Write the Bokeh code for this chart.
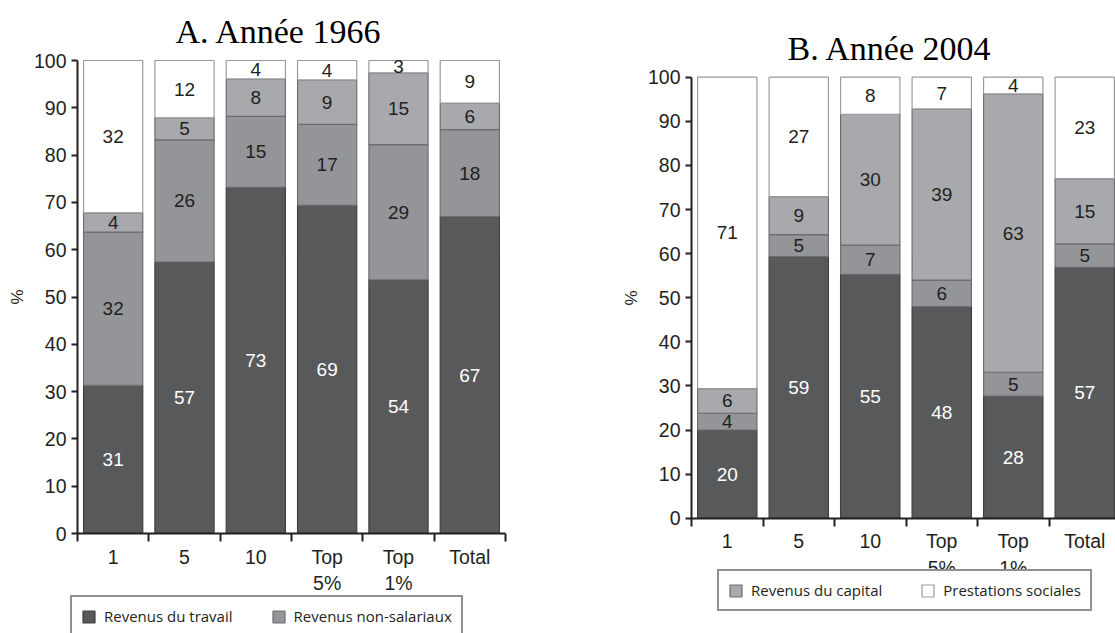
import numpy as np
from bokeh.plotting import figure
from bokeh.models import ColumnDataSource, Range1d, FixedTicker, Legend, LegendItem, Label
from bokeh.layouts import row
from bokeh.embed import file_html
from bokeh.resources import INLINE
from bokeh.core.properties import value

# ---------------- data ----------------
categories = ["1", "5", "10", "Top\n5%", "Top\n1%", "Total"]
series_names = ["Revenus du travail", "Revenus non-salariaux",
                "Revenus du capital", "Prestations sociales"]

# Année 1966 (%)
travail_1966 = [31.3, 57.4, 73.2, 69.4, 53.6, 67.0]
nonsal_1966 = [32.4, 25.8, 15.0, 17.1, 28.6, 18.4]
capital_1966 = [4.1, 4.7, 7.9, 9.4, 15.2, 5.6]
prestations_1966 = [32.2, 12.1, 3.9, 4.1, 2.6, 9.0]

# Année 2004 (%)
travail_2004 = [20.0, 59.3, 55.3, 48.0, 27.7, 56.9]
nonsal_2004 = [3.8, 5.0, 6.6, 6.0, 5.4, 5.3]
capital_2004 = [5.6, 8.6, 29.7, 38.8, 63.1, 14.8]
prestations_2004 = [70.6, 27.1, 8.4, 7.2, 3.8, 23.0]

y_ticks = list(range(0, 101, 10))

# ---------------- styles ----------------
FILL = ["#58595b", "#939598", "#a7a9ac", "#ffffff"]
LINE = ["#3f4042", "#6d6e71", "#6d6e71", "#9a9b9e"]
TXT = ["#ffffff", "#231f20", "#231f20", "#231f20"]
AXC = "#231f20"
NUM_FONT = "Liberation Sans"
CANVAS_TOP = 0
CANVAS_H = 633


def make_chart(title, series, canvas_left, canvas_w, x0_px, cat_px, y0_px,
               y100_px, title_left_px, title_base_px, legend_idx,
               legend_left_px, legend_bottom_px, legend_spacing, legend_pad):
    n = len(categories)
    centers = [i + 0.5 for i in range(n)]
    bounds = list(range(n + 1))
    keys = ["s0", "s1", "s2", "s3"]
    data = {"x": centers}
    for k, s in zip(keys, series):
        data[k] = s
    src = ColumnDataSource(data)

    ppu = (y0_px - y100_px) / 100.0
    canvas_bottom = CANVAS_TOP + CANVAS_H
    x_start = (canvas_left - x0_px) / cat_px
    x_end = (canvas_left + canvas_w - x0_px) / cat_px
    y_start = -(canvas_bottom - y0_px) / ppu
    y_end = 100 + (y100_px - CANVAS_TOP) / ppu

    p = figure(width=canvas_w, height=CANVAS_H, output_backend="svg",
               toolbar_location=None, x_range=Range1d(x_start, x_end),
               y_range=Range1d(y_start, y_end), min_border=0,
               min_border_left=0, min_border_right=0, min_border_top=0,
               min_border_bottom=0)
    try:
        p.frame_align = False
    except Exception:
        pass
    p.grid.visible = False
    p.outline_line_color = None
    p.background_fill_color = "white"
    p.border_fill_color = "white"

    rends = p.vbar_stack(keys, x="x", width=0.83, source=src,
                         fill_color=FILL, line_color=LINE, line_width=1.2)

    # value labels at segment middles
    arr = np.array(series, dtype=float)
    cum = np.cumsum(arr, axis=0)
    base = cum - arr
    for j in range(4):
        mids = base[j] + arr[j] / 2.0
        labs = [str(int(round(v))) for v in series[j]]
        ls = ColumnDataSource({"x": centers, "y": list(mids), "t": labs})
        p.text(x="x", y="y", text="t", source=ls, text_align="center",
               text_baseline="middle", text_color=TXT[j],
               text_font=value(NUM_FONT), text_font_size="19px")

    # y axis
    p.yaxis.fixed_location = 0
    p.yaxis.bounds = (0, 100)
    p.yaxis.ticker = FixedTicker(ticks=y_ticks)
    p.yaxis.axis_label = "%"
    p.yaxis.axis_label_text_font = NUM_FONT
    p.yaxis.axis_label_text_font_style = "normal"
    p.yaxis.axis_label_text_font_size = "17px"
    p.yaxis.axis_label_text_color = AXC
    p.yaxis.axis_label_standoff = 4
    p.yaxis.major_label_text_font = NUM_FONT
    p.yaxis.major_label_text_font_size = "19.5px"
    p.yaxis.major_label_text_color = AXC
    p.yaxis.major_label_standoff = 5
    p.yaxis.major_tick_out = 6
    p.yaxis.major_tick_in = 0
    p.yaxis.minor_tick_line_color = None
    p.yaxis.axis_line_width = 2
    p.yaxis.axis_line_color = AXC
    p.yaxis.major_tick_line_width = 2
    p.yaxis.major_tick_line_color = AXC

    # x axis
    p.xaxis.fixed_location = 0
    p.xaxis.bounds = (0, n)
    p.xaxis.ticker = FixedTicker(ticks=centers, minor_ticks=bounds)
    p.xaxis.major_label_overrides = {c: lab for c, lab in zip(centers, categories)}
    p.xaxis.major_tick_out = 0
    p.xaxis.major_tick_in = 0
    p.xaxis.minor_tick_out = 8
    p.xaxis.minor_tick_in = 0
    p.xaxis.minor_tick_line_width = 2
    p.xaxis.minor_tick_line_color = AXC
    p.xaxis.axis_line_width = 2
    p.xaxis.axis_line_color = AXC
    p.xaxis.major_label_text_font = NUM_FONT
    p.xaxis.major_label_text_font_size = "19.5px"
    p.xaxis.major_label_text_color = AXC
    p.xaxis.major_label_standoff = 4

    # title
    tl = Label(x=(title_left_px - x0_px) / cat_px,
               y=(y0_px - title_base_px) / ppu,
               text=title, text_font="Liberation Serif", text_font_size="34px",
               text_color="#000000", text_align="left",
               text_baseline="alphabetic")
    p.add_layout(tl)

    # legend
    items = [LegendItem(label=series_names[i], renderers=[rends[i]]) for i in legend_idx]
    leg = Legend(items=items,
                 location=(legend_left_px - canvas_left, canvas_bottom - legend_bottom_px),
                 orientation="horizontal",
                 glyph_width=15, glyph_height=15, label_standoff=8,
                 spacing=legend_spacing, padding=legend_pad, margin=0,
                 label_text_font="Open Sans", label_text_font_size="15px",
                 label_text_color="#231f20", label_height=15,
                 border_line_color="#231f20", border_line_width=2,
                 background_fill_color="white", background_fill_alpha=1.0)
    p.add_layout(leg)
    return p


pA = make_chart("A. Année 1966",
                [travail_1966, nonsal_1966, capital_1966, prestations_1966],
                canvas_left=0, canvas_w=552, x0_px=77, cat_px=71.33,
                y0_px=533, y100_px=60, title_left_px=175, title_base_px=31,
                legend_idx=[0, 1], legend_left_px=70, legend_bottom_px=637,
                legend_spacing=38, legend_pad=9)

pB = make_chart("B. Année 2004",
                [travail_2004, nonsal_2004, capital_2004, prestations_2004],
                canvas_left=552, canvas_w=563, x0_px=691, cat_px=71.5,
                y0_px=517.7, y100_px=76.7, title_left_px=787, title_base_px=48,
                legend_idx=[2, 3], legend_left_px=717, legend_bottom_px=611,
                legend_spacing=38, legend_pad=9)

layout = row(pA, pB)
open("out.html", "w").write(file_html(layout, INLINE))
